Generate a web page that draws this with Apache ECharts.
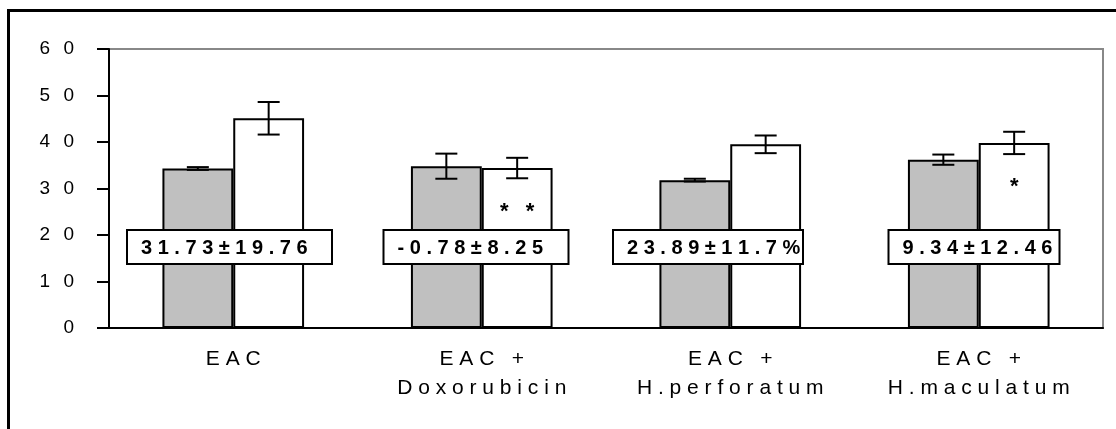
<!DOCTYPE html>
<html>
<head>
<meta charset="utf-8">
<script src="https://cdn.jsdelivr.net/npm/echarts@6/dist/echarts.min.js"></script>
<style>
  html, body { margin: 0; padding: 0; background: #fff; }
  #main { width: 1116px; height: 429px; }
</style>
</head>
<body>
<div id="main"></div>
<script>
// groups on the x axis
var categories = ['EAC', 'EAC + Doxorubicin', 'EAC + H.perforatum', 'EAC + H.maculatum'];
// grey bars (first measurement) and white bars (second measurement)
var greyValues = [34.3, 34.8, 31.8, 36.2];
var greyErrors = [0.3, 2.7, 0.3, 1.1];
var whiteValues = [45.1, 34.4, 39.5, 39.8];
var whiteErrors = [3.5, 2.2, 1.9, 2.4];
// significance marks on the white bars
var sigMarks = ['', '* *', '', '*'];
// change written in the boxes
var notes = ['31.73±19.76', '-0.78±8.25', '23.89±11.7%', '9.34±12.46'];
var yTicks = { min: 0, max: 60, interval: 10 };

var FONT = 'Liberation Sans, Arial, sans-serif';
var CAT_GAP = 0.43;
// where each box sits: left offset from the band start (px), width (px)
var noteLayout = [[18, 205], [26, 185], [7, 190], [34, 171]];
var NOTE_Y = 17.4;

function spread(s) {
  return s.split('').join(' ');
}

function errData(vals, errs) {
  return vals.map(function (v, i) { return [i, v - errs[i], v + errs[i]]; });
}

// side: -1 for grey bar, +1 for white bar
function errorBar(side) {
  return function (params, api) {
    var i = api.value(0);
    var lo = api.coord([i, api.value(1)]);
    var hi = api.coord([i, api.value(2)]);
    var band = api.size([1, 0])[0];
    var cx = lo[0] + side * band * (1 - CAT_GAP) / 4;
    var half = 11;
    var st = { stroke: '#000', lineWidth: 2 };
    return {
      type: 'group',
      children: [
        { type: 'line', shape: { x1: cx, y1: lo[1], x2: cx, y2: hi[1] }, style: st },
        { type: 'line', shape: { x1: cx - half, y1: lo[1], x2: cx + half, y2: lo[1] }, style: st },
        { type: 'line', shape: { x1: cx - half, y1: hi[1], x2: cx + half, y2: hi[1] }, style: st }
      ]
    };
  };
}

var chart = echarts.init(document.getElementById('main'));
chart.setOption({
  animation: false,
  backgroundColor: '#fff',
  graphic: [{
    type: 'rect',
    shape: { x: 8.5, y: 10.5, width: 1200, height: 500 },
    style: { fill: 'none', stroke: '#000', lineWidth: 3 },
    silent: true
  }],
  grid: {
    left: 109, right: 13, top: 49, bottom: 101,
    show: true, borderColor: '#888', borderWidth: 2, backgroundColor: 'transparent'
  },
  xAxis: {
    type: 'category',
    data: categories,
    axisLine: { lineStyle: { color: '#000', width: 2 } },
    axisTick: { length: 7, lineStyle: { color: '#000', width: 2 } },
    axisLabel: {
      margin: 17,
      color: '#000',
      fontFamily: FONT,
      fontSize: 21,
      lineHeight: 29,
      interval: 0,
      formatter: function (v) {
        var p = v.indexOf(' + ');
        if (p < 0) return spread(v);
        return spread(v.slice(0, p + 2)) + '\n' + spread(v.slice(p + 3));
      }
    }
  },
  yAxis: {
    type: 'value',
    min: yTicks.min,
    max: yTicks.max,
    interval: yTicks.interval,
    splitLine: { show: false },
    axisLine: { show: true, lineStyle: { color: '#000', width: 2 } },
    axisTick: { show: true, length: 12, lineStyle: { color: '#000', width: 2 } },
    axisLabel: {
      margin: 35,
      color: '#000',
      fontFamily: FONT,
      fontSize: 19,
      formatter: function (v) { return String(v).split('').join('\u2002\u2009'); }
    }
  },
  series: [
    {
      type: 'bar',
      data: greyValues,
      barGap: '0%',
      barCategoryGap: (CAT_GAP * 100) + '%',
      itemStyle: { color: '#c0c0c0', borderColor: '#000', borderWidth: 2 }
    },
    {
      type: 'bar',
      data: whiteValues,
      itemStyle: { color: '#fff', borderColor: '#000', borderWidth: 2 },
      label: {
        show: true,
        position: 'insideTop',
        distance: 33,
        color: '#000',
        fontFamily: FONT,
        fontSize: 22,
        fontWeight: 'bold',
        formatter: function (p) { return sigMarks[p.dataIndex].replace(' ', '\u2002 '); }
      }
    },
    {
      type: 'custom',
      renderItem: errorBar(-1),
      data: errData(greyValues, greyErrors),
      z: 5
    },
    {
      type: 'custom',
      renderItem: errorBar(1),
      data: errData(whiteValues, whiteErrors),
      z: 5
    },
    {
      type: 'custom',
      z: 10,
      data: notes.map(function (t, i) { return [i, NOTE_Y]; }),
      renderItem: function (params, api) {
        var i = api.value(0);
        var c = api.coord([i, api.value(1)]);
        var band = api.size([1, 0])[0];
        var lay = noteLayout[i];
        var x0 = c[0] - band / 2 + lay[0];
        var h = 34;
        return {
          type: 'group',
          children: [
            {
              type: 'rect',
              shape: { x: x0, y: c[1] - h / 2, width: lay[1], height: h },
              style: { fill: '#fff', stroke: '#000', lineWidth: 2 }
            },
            {
              type: 'text',
              style: {
                x: x0 + 14, y: c[1] + 1,
                text: spread(notes[i]),
                align: 'left', verticalAlign: 'middle',
                fill: '#000',
                font: 'bold 20px ' + FONT
              }
            }
          ]
        };
      }
    }
  ]
});
</script>
</body>
</html>
